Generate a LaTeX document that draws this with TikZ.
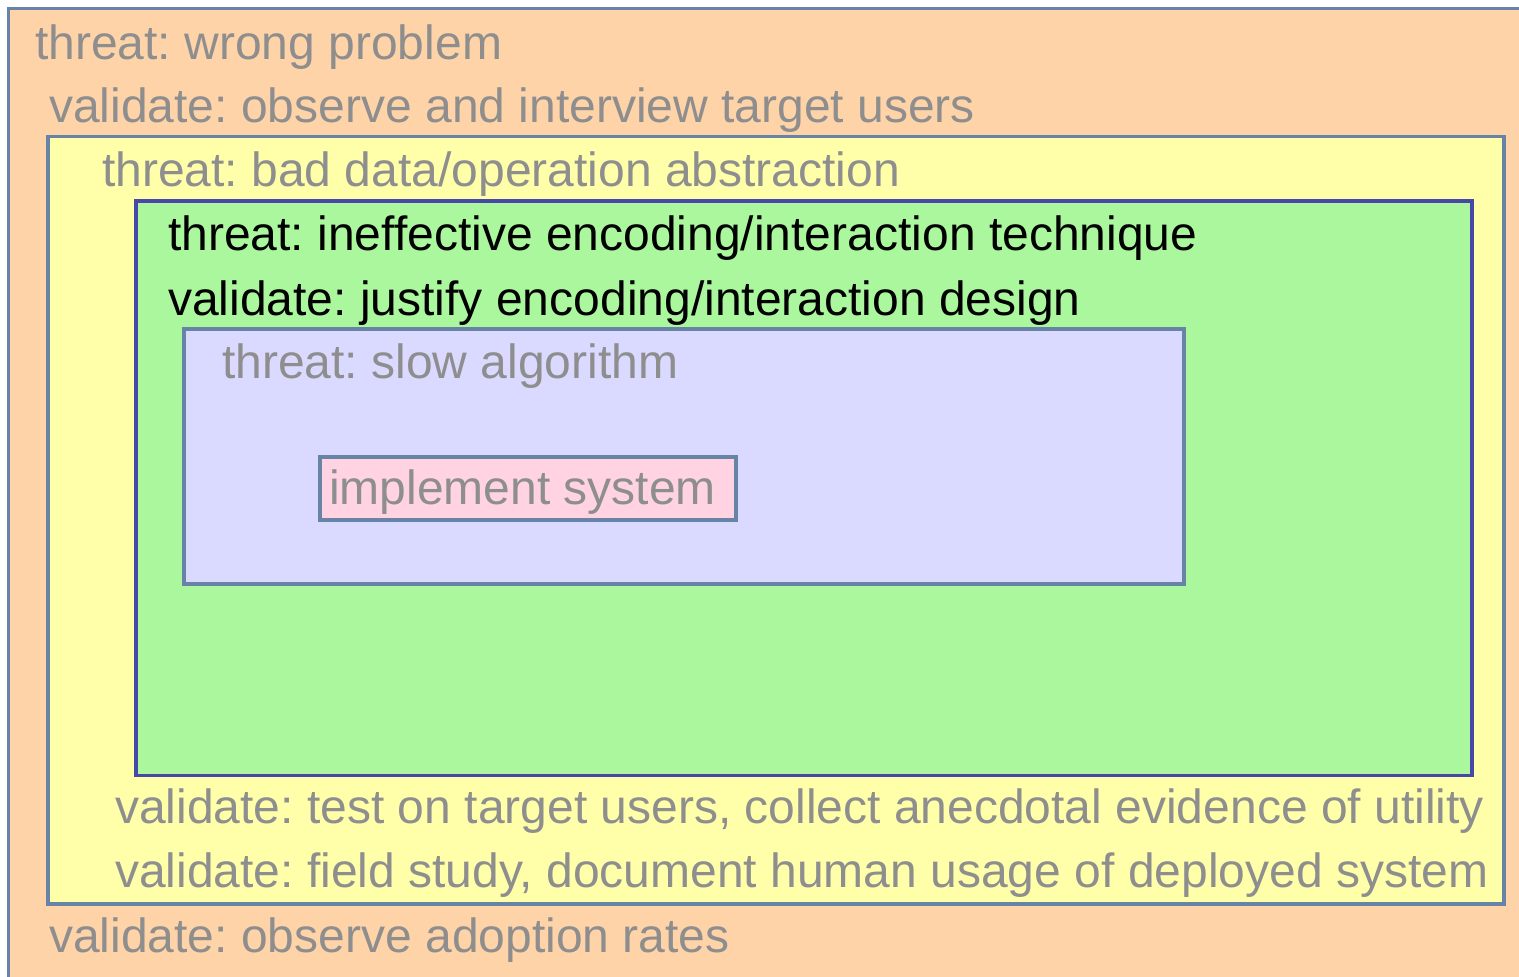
\documentclass[tikz,border=0pt]{standalone}
\usepackage{fontspec}
\setmainfont{Liberation Sans}
\frenchspacing
\definecolor{outerfill}{HTML}{FFD3A8}
\definecolor{yellowfill}{HTML}{FFFFAA}
\definecolor{greenfill}{HTML}{AAF79D}
\definecolor{lavfill}{HTML}{DAD9FF}
\definecolor{pinkfill}{HTML}{FFD3E1}
\definecolor{steelline}{HTML}{6783A6}
\definecolor{navyline}{HTML}{4747A8}
\definecolor{greytext}{HTML}{8E8E8E}
\tikzset{
  layer/.style={line width=3.5pt},
  label/.style={anchor=base west, inner sep=0pt, text=greytext,
    font=\fontsize{48}{58}\selectfont},
  darklabel/.style={label, text=black}
}
\begin{document}
\begin{tikzpicture}[x=1pt,y=-1pt]
  \useasboundingbox (0,0) rectangle (1519,977);
  \clip (0,0) rectangle (1519,977);
  \fill[white] (0,0) rectangle (1519,977);

  % nested stages, outermost first
  \draw[layer, draw=steelline, fill=outerfill] (8.5,8.5) rectangle (1540,1000);
  \draw[layer, draw=steelline, fill=yellowfill] (48,136.5) rectangle (1504,904);
  \draw[layer, draw=navyline, fill=greenfill] (136,201) rectangle (1472,775.5);
  \draw[layer, draw=steelline, fill=lavfill] (184,329) rectangle (1184,584);
  \draw[layer, draw=steelline, fill=pinkfill] (320,457) rectangle (736,520);

  % labels
  \node[label] (t1) at (35,59) {threat: wrong problem};
  \node[label] (v1) at (49,122) {validate: observe and interview target users};
  \node[label] (t2) at (102,186) {threat: bad data/operation abstraction};
  \node[darklabel] (t3) at (168,250) {threat: ineffective encoding/interaction technique};
  \node[darklabel] (v3) at (168,315) {validate: justify encoding/interaction design};
  \node[label] (t4) at (222,378) {threat: slow algorithm};
  \node[label] (impl) at (329,504) {implement system};
  \node[label] (v2a) at (115,823) {validate: test on target users, collect anecdotal evidence of utility};
  \node[label] (v2b) at (115,887) {validate: field study, document human usage of deployed system};
  \node[label] (v0) at (49,952) {validate: observe adoption rates};
\end{tikzpicture}
\end{document}
